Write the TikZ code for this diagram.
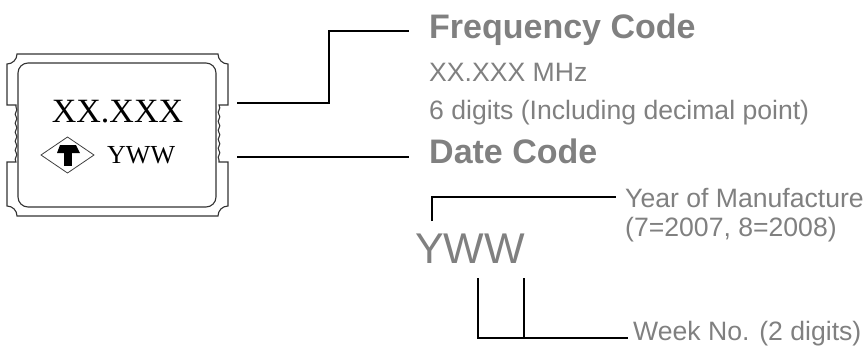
\documentclass[tikz,border=0pt]{standalone}
\usepackage{fontspec}
\setmainfont{Liberation Serif}
\setsansfont{Liberation Sans}
\usetikzlibrary{decorations.pathmorphing}
\definecolor{mgray}{RGB}{128, 128, 128}
\newcommand{\headsz}{\fontsize{34}{38}\selectfont}
\newcommand{\notesz}{\fontsize{26.6}{30}\selectfont}
\tikzset{lead/.style = {line width = 1.8pt}}
\tikzset{pkg/.style = {line width = 1.1pt, black!80}}
\tikzset{txt/.style = {anchor = base west, inner sep = 0, text = mgray}}
\tikzset{note/.style = {txt, font = \sffamily\notesz}}
\tikzset{head/.style = {txt, font = \sffamily\bfseries\headsz}}

\begin{document}
\begin{tikzpicture}[x = 1pt, y = 1pt]
      \useasboundingbox (0, 0) rectangle (867, -349);

      \draw [pkg, decoration = {snake, amplitude = 0.8pt, segment length = 9pt}]
        (17, -54) -- (218, -54) arc [start angle = 180, end angle = 270, radius = 10]
        -- (228, -105) -- (219, -105) decorate {-- (219, -162)} -- (228, -162)
        -- (228, -206) arc [start angle = 90, end angle = 180, radius = 10]
        -- (17, -216) arc [start angle = 0, end angle = 90, radius = 10]
        -- (7, -162) -- (16, -162) decorate {-- (16, -105)} -- (7, -105)
        -- (7, -64) arc [start angle = 270, end angle = 360, radius = 10] -- cycle;
      \draw [pkg, rounded corners = 10pt] (18, -63) rectangle (216, -207);

      \draw [black!75, line width = 0.8pt] (41, -155) -- (67.5, -137) -- (94, -155) -- (67.5, -173) -- cycle;
      \fill (60, -145) -- (76, -145) -- (80, -153) -- (57, -153) -- cycle;
      \fill (64, -153) rectangle (72, -166);

      \node (mark-freq) [anchor = base, inner sep = 0, font = \fontsize{34}{36}\selectfont] at (117.5, -122) {XX.XXX};
      \node (mark-date) [anchor = base west, inner sep = 0, font = \fontsize{26}{28}\selectfont] at (107, -163) {YWW};

      \coordinate (fq-a) at (237, -103);
      \coordinate (fq-b) at (329, -31);
      \coordinate (fq-c) at (409, -31);
      \coordinate (dc-a) at (237, -157);
      \coordinate (dc-c) at (409, -157);
      \draw [lead] (fq-a) -| (fq-b) -- (fq-c);
      \draw [lead] (dc-a) -- (dc-c);

      \node (fq-head) [head] at (429, -38) {Frequency Code};
      \node (fq-val) [note] at (429, -81) {XX.XXX MHz};
      \node (fq-note) [note] at (429, -119) {6 digits (Including decimal point)};
      \node (dc-head) [head] at (429, -163) {Date Code};

      \node (yww) [txt, font = \sffamily\fontsize{43}{46}\selectfont] at (415, -263) {YWW};

      \coordinate (yr-a) at (432, -221);
      \coordinate (yr-b) at (616, -197);
      \draw [lead] (yr-a) |- (yr-b);
      \node (yr-1) [note] at (625, -207) {Year of Manufacture};
      \node (yr-2) [note] at (625, -236) {(7=2007, 8=2008)};

      \coordinate (wk-c) at (628, -338);
      \foreach \x in {478, 524} {
        \draw [lead] (\x, -278) |- (wk-c);
      }
      \node (wk) [note] at (633, -340) {Week No. (2 digits)};
    \end{tikzpicture}
\end{document}
